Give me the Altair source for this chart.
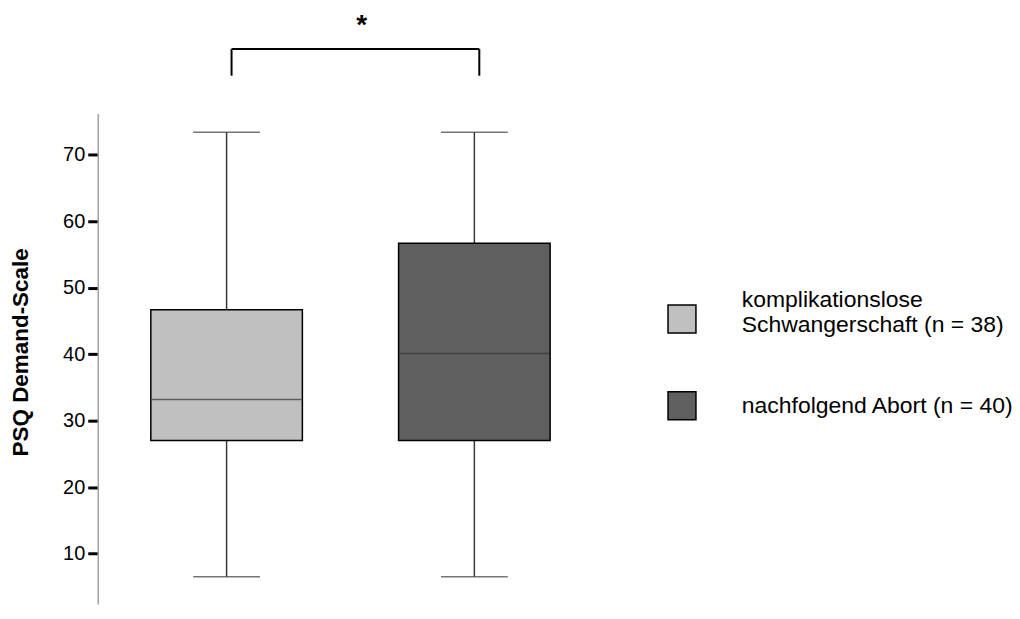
import altair as alt
import pandas as pd

# ---- data ----
groups = ["komplikationslose|Schwangerschaft (n = 38)", "nachfolgend Abort (n = 40)"]
positions = [1, 2]
whisker_low = [6.5, 6.5]
q1 = [27.0, 27.0]
median = [33.2, 40.1]
q3 = [46.7, 56.7]
whisker_high = [73.4, 73.4]
colors = ["#c0c0c0", "#5f5f5f"]
outline_colors = ["black", "black"]

bracket_x = [1.02, 2.02]
bracket_top = 85.9
bracket_bottom = 81.9
star_label = "*"
star_x = 1.545
star_y = 89.3

y_ticks = [10, 20, 30, 40, 50, 60, 70]
y_domain = [2.4, 76.2]
x_domain = [0.5, 2.5]

# legend symbols: first one sits below the first line of its two-line label
legend_shapes = ["M-1,0.36H1V2.36H-1Z", "square"]

FONT = "Liberation Sans"

box_df = pd.DataFrame({
    "group": groups, "pos": positions, "lo": whisker_low, "q1": q1,
    "med": median, "q3": q3, "hi": whisker_high,
})
bracket_h = pd.DataFrame({"x": [bracket_x[0]], "x2": [bracket_x[1]], "y": [bracket_top]})
bracket_v = pd.DataFrame({"x": bracket_x, "y": [bracket_bottom] * 2, "y2": [bracket_top] * 2})
star_df = pd.DataFrame({"x": [star_x], "y": [star_y], "t": [star_label]})

xs = alt.Scale(domain=x_domain, nice=False, zero=False)
ys = alt.Scale(domain=y_domain, nice=False, zero=False)

base = alt.Chart(box_df)
X = alt.X("pos:Q", scale=xs, axis=None)

legend_def = alt.Legend(
    title=None, orient="none", legendX=571, legendY=172,
    symbolSize=784, symbolStrokeColor="black", symbolStrokeWidth=1.5, symbolOpacity=1,
    labelExpr="split(datum.label, '|')",
    labelFont=FONT, labelFontSize=23, labelColor="black",
    labelOffset=45, labelLimit=500, rowPadding=52, padding=0,
    labelBaseline="middle")

# hidden key marks (covered by the boxes) that carry the legend
key = base.mark_point(filled=True, size=784, strokeWidth=1.5, opacity=1).encode(
    x=X,
    y=alt.Y("med:Q", scale=ys),
    color=alt.Color("group:N", scale=alt.Scale(domain=groups, range=colors), legend=legend_def),
    shape=alt.Shape("group:N", scale=alt.Scale(domain=groups, range=legend_shapes), legend=legend_def),
    stroke=alt.Stroke("group:N", scale=alt.Scale(domain=groups, range=outline_colors), legend=legend_def),
)

whisker = base.mark_rule(color="#3a3a3a", strokeWidth=1.5).encode(
    x=X,
    y=alt.Y("lo:Q", scale=ys, axis=alt.Axis(
        values=y_ticks, title="PSQ Demand-Scale", grid=False,
        domainColor="#a0a0a0", domainWidth=1.5,
        tickColor="black", tickWidth=3, tickSize=10,
        labelFont=FONT, labelFontSize=20, labelColor="black", labelPadding=3,
        titleFont=FONT, titleFontSize=22.5, titleFontWeight="bold", titleColor="black",
        titlePadding=30, titleY=239)),
    y2="hi:Q",
)

caps_lo = base.mark_tick(color="#3a3a3a", thickness=1.5, size=67, orient="horizontal").encode(
    x=X, y=alt.Y("lo:Q", scale=ys))
caps_hi = base.mark_tick(color="#3a3a3a", thickness=1.5, size=67, orient="horizontal").encode(
    x=X, y=alt.Y("hi:Q", scale=ys))

box = base.mark_bar(width=152, stroke="black", strokeWidth=1.5, opacity=1).encode(
    x=X,
    y=alt.Y("q1:Q", scale=ys),
    y2="q3:Q",
    color=alt.Color("group:N", scale=alt.Scale(domain=groups, range=colors), legend=None),
)

med = base.mark_tick(color="#333333", thickness=1.5, size=150, orient="horizontal").encode(
    x=X, y=alt.Y("med:Q", scale=ys))

br_h = alt.Chart(bracket_h).mark_rule(color="black", strokeWidth=2).encode(
    x=alt.X("x:Q", scale=xs), x2="x2:Q", y=alt.Y("y:Q", scale=ys))
br_v = alt.Chart(bracket_v).mark_rule(color="black", strokeWidth=2).encode(
    x=alt.X("x:Q", scale=xs), y=alt.Y("y:Q", scale=ys), y2="y2:Q")
star = alt.Chart(star_df).mark_text(font=FONT, fontSize=28, fontWeight="bold", color="black",
                                    baseline="middle").encode(
    x=alt.X("x:Q", scale=xs), y=alt.Y("y:Q", scale=ys), text="t:N")

chart = alt.layer(key, whisker, caps_lo, caps_hi, box, med, br_h, br_v, star).properties(
    width=507, height=492,
    autosize=alt.AutoSizeParams(type="none"),
    padding={"left": 90, "top": 105, "right": 410, "bottom": 4},
).configure(background="white").configure_view(stroke=None)

chart.save("out.html", embed_options={"renderer": "svg", "actions": False})
